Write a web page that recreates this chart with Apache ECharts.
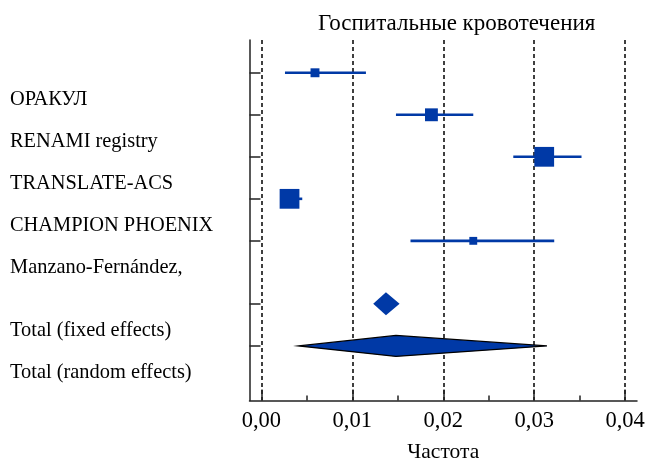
<!DOCTYPE html>
<html>
<head>
<meta charset="utf-8">
<script src="https://cdn.jsdelivr.net/npm/echarts@6/dist/echarts.min.js"></script>
<style>
  html, body { margin: 0; padding: 0; background: #fff; }
  #chart { width: 655px; height: 462px; }
</style>
</head>
<body>
<div id="chart"></div>
<script>
// studies (top to bottom)
const studyNames = ['ОРАКУЛ', 'RENAMI registry', 'TRANSLATE-ACS', 'CHAMPION PHOENIX', 'Manzano-Fernández,'];
const studyRows = [0, 1, 2, 3, 4];
const studyEst = [0.0059, 0.0187, 0.0311, 0.0031, 0.0233];
const studyLow = [0.0026, 0.0148, 0.0277, 0.0022, 0.0164];
const studyHigh = [0.0115, 0.0233, 0.0352, 0.0045, 0.0322];
const studyWeight = [7.3, 15.2, 35.9, 35.9, 5.7];

// pooled estimates
const totalNames = ['Total (fixed effects)', 'Total (random effects)'];
const totalRows = [5.5, 6.5];
const totalEst = [0.0137, 0.0148];
const totalLow = [0.0123, 0.0041];
const totalHigh = [0.0152, 0.0314];

const xTicks = [0, 0.01, 0.02, 0.03, 0.04];
const xMinorTicks = [0.005, 0.015, 0.025, 0.035];

const allNames = studyNames.concat(totalNames);
const allRows = studyRows.concat(totalRows);
const LABEL_SHIFT = 0.64; // names sit a little below their tick in the original

const BLUE = '#0039a6';
const FONT = 'Liberation Serif';

const studyData = studyRows.map((r, i) => [studyEst[i], studyLow[i], studyHigh[i], r, studyWeight[i]]);
const totalData = totalRows.map((r, i) => [totalEst[i], totalLow[i], totalHigh[i], r, i]);

function nameAt(v) {
  const k = allRows.findIndex((r) => Math.abs(r + LABEL_SHIFT - v) < 1e-6);
  return k < 0 ? '' : allNames[k];
}

function renderStudy(params, api) {
  const c = api.coord([api.value(0), api.value(3)]);
  const lo = api.coord([api.value(1), api.value(3)]);
  const hi = api.coord([api.value(2), api.value(3)]);
  const s = Math.sqrt(api.value(4)) * 3.3;
  return {
    type: 'group',
    children: [
      {
        type: 'line',
        shape: { x1: lo[0], y1: c[1], x2: hi[0], y2: c[1] },
        style: { stroke: BLUE, lineWidth: 2.6 }
      },
      {
        type: 'rect',
        shape: { x: c[0] - s / 2, y: c[1] - s / 2, width: s, height: s },
        style: { fill: BLUE }
      }
    ]
  };
}

function renderTotal(params, api) {
  const c = api.coord([api.value(0), api.value(3)]);
  const lo = api.coord([api.value(1), api.value(3)]);
  const hi = api.coord([api.value(2), api.value(3)]);
  const fixed = api.value(4) === 0;
  const h = fixed ? 11.5 : 10.5;
  return {
    type: 'polygon',
    shape: { points: [[lo[0], c[1]], [c[0], c[1] - h], [hi[0], c[1]], [c[0], c[1] + h]] },
    style: fixed ? { fill: BLUE } : { fill: BLUE, stroke: '#000', lineWidth: 1.2 }
  };
}

const chart = echarts.init(document.getElementById('chart'));
chart.setOption({
  animation: false,
  title: {
    text: 'Госпитальные кровотечения',
    left: 313,
    top: 7,
    textStyle: { fontFamily: FONT, fontSize: 23, fontWeight: 'normal', color: '#000' }
  },
  grid: { left: 249.5, right: 18, top: 40, bottom: 61.5, outerBoundsMode: 'none', containLabel: false },
  xAxis: [
    {
      type: 'value',
      position: 'bottom',
      min: -0.0013,
      max: 0.0413,
      name: 'Частота',
      nameLocation: 'middle',
      nameGap: 41,
      nameTextStyle: { fontFamily: FONT, fontSize: 21.5, color: '#000' },
      axisLine: { onZero: false, lineStyle: { color: '#222', width: 1.5 } },
      axisTick: { customValues: xTicks, inside: true, length: 11, lineStyle: { color: '#222', width: 1.5 } },
      axisLabel: {
        customValues: xTicks,
        margin: 9,
        fontFamily: FONT,
        fontSize: 22.5,
        color: '#000',
        formatter: (v) => v.toFixed(2).replace('.', ',')
      },
      splitLine: { show: true, lineStyle: { color: '#000', width: 1.5, type: [4, 3] } }
    },
    {
      type: 'value',
      position: 'bottom',
      min: -0.0013,
      max: 0.0413,
      axisLine: { show: false, onZero: false },
      axisTick: { customValues: xMinorTicks, inside: true, length: 5, lineStyle: { color: '#222', width: 1.5 } },
      axisLabel: { show: false },
      splitLine: { show: false }
    }
  ],
  yAxis: {
    type: 'value',
    inverse: true,
    min: -0.78,
    max: 7.8,
    axisLine: { show: true, onZero: false, lineStyle: { color: '#222', width: 1.5 } },
    axisTick: { show: true, customValues: allRows, inside: true, length: 11, lineStyle: { color: '#222', width: 1.5 } },
    axisLabel: {
      show: true,
      customValues: allRows.map((r) => r + LABEL_SHIFT),
      align: 'left',
      margin: 239.5,
      fontFamily: FONT,
      fontSize: 20.4,
      color: '#000',
      formatter: (v) => nameAt(v)
    },
    splitLine: { show: false }
  },
  series: [
    {
      type: 'custom',
      renderItem: renderStudy,
      data: studyData,
      encode: { x: [0, 1, 2], y: 3 },
      z: 3
    },
    {
      type: 'custom',
      renderItem: renderTotal,
      data: totalData,
      encode: { x: [0, 1, 2], y: 3 },
      z: 3
    }
  ]
});
</script>
</body>
</html>
